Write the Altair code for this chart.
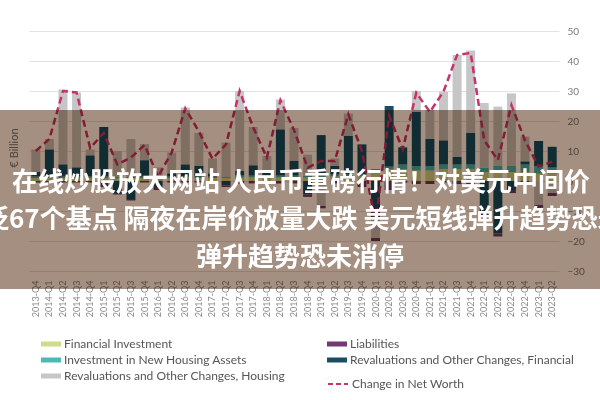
import altair as alt
import pandas as pd

quarters = [
    "2013-Q4",
    "2014-Q1", "2014-Q2", "2014-Q3", "2014-Q4",
    "2015-Q1", "2015-Q2", "2015-Q3", "2015-Q4",
    "2016-Q1", "2016-Q2", "2016-Q3", "2016-Q4",
    "2017-Q1", "2017-Q2", "2017-Q3", "2017-Q4",
    "2018-Q1", "2018-Q2", "2018-Q3", "2018-Q4",
    "2019-Q1", "2019-Q2", "2019-Q3", "2019-Q4",
    "2020-Q1", "2020-Q2", "2020-Q3", "2020-Q4",
    "2021-Q1", "2021-Q2", "2021-Q3", "2021-Q4",
    "2022-Q1", "2022-Q2", "2022-Q3", "2022-Q4",
    "2023-Q1", "2023-Q2",
]

fin_inv = [1.0, 1.0, 1.0, 1.0, 1.0, 1.0, 1.0, 1.0, 1.0, 1.0, 1.0, 1.0, 1.0, 1.0, 1.0,
           1.2, 1.2, 1.2, 1.2, 1.2, 1.2, 1.2, 1.5, 1.5, 1.5, 3.0, 4.0, 4.0, 3.5, 3.5,
           4.0, 4.0, 4.0, 3.0, 3.0, 3.0, 3.0, 2.5, 2.5]
new_housing = [0.5, 0.5, 0.5, 0.5, 0.5, 0.5, 0.5, 0.5, 0.5, 0.5, 0.5, 0.5, 0.5, 0.5, 0.5,
               0.6, 0.6, 0.6, 0.6, 0.6, 0.6, 0.6, 0.7, 0.7, 0.7, 1.0, 0.8, 1.5, 1.5, 1.5,
               1.5, 1.5, 1.5, 1.5, 2.0, 2.0, 2.5, 2.5, 2.0]
reval_fin = [1.5, 9.0, 4.0, 3.0, 7.0, 16.5, -4.0, -6.0, 5.4, -2.0, 1.0, 4.0, 3.5, 1.0, -1.5,
             1.5, 3.4, 1.0, 15.4, 4.9, -4.5, 13.5, 2.8, 12.8, 10.0, -13.0, 20.2, 5.7, 18.0, 9.0,
             8.0, 2.5, 10.5, -10.5, -17.5, -3.0, 1.0, 8.3, 6.9]
reval_housing = [7.5, 3.5, 25.0, 25.0, 2.0, 0.0, 8.5, 12.5, 5.4, 3.0, 7.0, 19.0, 11.0, 5.0, 11.3,
                 26.7, 12.8, 5.5, 10.0, 11.0, 7.0, -8.3, 2.5, 7.5, 0.0, -6.0, 0.0, 0.0, 7.0, 9.7,
                 16.3, 34.0, 27.5, 21.5, 19.8, 24.2, 8.3, -8.0, -4.0]
liabilities = [-0.5, -0.5, -0.5, -0.5, -0.5, -2.0, -0.5, -0.5, -0.5, -1.0, -0.5, -0.5, -0.5, -0.5, -0.5,
               -0.8, -0.8, -0.8, -0.8, -0.8, -0.8, -0.8, -0.8, -0.8, -2.0, -1.0, -3.0, -0.6, -1.0, -1.0,
               -0.5, -1.0, -1.0, -1.5, -1.0, -1.0, -1.0, -1.0, -1.0]
net_change = [10.0, 14.0, 30.0, 29.5, 11.0, 16.0, 5.5, 7.8, 12.0, 1.5, 9.5, 24.2, 16.5, 7.4, 12.2,
              30.0, 17.8, 7.8, 26.9, 17.0, 4.4, 6.7, 6.7, 22.2, 10.0, -14.0, 21.7, 10.6, 29.4, 23.0,
              29.8, 42.0, 42.7, 13.5, 7.0, 25.3, 13.5, 4.8, 6.4]

y_ticks = [-30, -20, -10, 0, 10, 20, 30, 40, 50]
banner_lines = [
    "在线炒股放大网站 人民币重磅行情！对美元中间价",
    "调贬67个基点 隔夜在岸价放量大跌 美元短线弹升趋势恐未消停",
    "弹升趋势恐未消停",
]
y_title = "€ Billion"

S_FI = "Financial Investment"
S_NH = "Investment in New Housing Assets"
S_RH = "Revaluations and Other Changes, Housing"
S_L = "Liabilities"
S_RF = "Revaluations and Other Changes, Financial"
S_NET = "Change in Net Worth"

series_defs = [
    (S_FI, fin_inv, 0),
    (S_NH, new_housing, 1),
    (S_RF, reval_fin, 2),
    (S_RH, reval_housing, 3),
    (S_L, liabilities, 4),
]
rows = []
for i, q in enumerate(quarters):
    for name, vals, order in series_defs:
        rows.append({"quarter": q, "series": name, "value": vals[i], "order": order})
df = pd.DataFrame(rows)
line_df = pd.DataFrame({"quarter": quarters, "net": net_change, "label": [S_NET] * len(quarters)})

FONT = "Lato"
xaxis = alt.Axis(labelAngle=270, labelAlign="right", labelBaseline="middle", labelFontSize=9,
                 labelColor="#8a8a8a", labelFont=FONT, ticks=False, domain=False,
                 labelPadding=9, grid=False, title=None)
yaxis = alt.Axis(orient="right", values=y_ticks, grid=True, gridColor="#e3e3e3", ticks=False,
                 domain=False, labelPadding=8, labelFontSize=10, labelColor="#7a7a7a",
                 labelFont=FONT, title=None)
xscale = alt.Scale(paddingInner=0.34, paddingOuter=0.17)
yscale = alt.Scale(domain=[-30, 50], nice=False, zero=False)

X = alt.X("quarter:N", sort=quarters, scale=xscale, axis=xaxis)

bar_symbol = "M-1,-0.25H1V0.25H-1Z"


def leg(x, y):
    return alt.Legend(title=None, orient="none", legendX=x, legendY=y, direction="vertical",
                      symbolType=bar_symbol, symbolSize=400, symbolStrokeWidth=0,
                      labelFont=FONT, labelFontSize=12, labelColor="#555555", labelOffset=3,
                      rowPadding=0, padding=0, labelLimit=400)


base = alt.Chart(df).transform_stack(
    stack="value", as_=["y0", "y1"], groupby=["quarter"],
    sort=[alt.SortField("order", order="ascending")],
)

bars_a = base.transform_filter(
    alt.FieldOneOfPredicate(field="series", oneOf=[S_FI, S_NH, S_RH])
).mark_bar().encode(
    x=X,
    y=alt.Y("y0:Q", scale=yscale, axis=yaxis),
    y2="y1:Q",
    color=alt.Color("series:N",
                    scale=alt.Scale(domain=[S_FI, S_NH, S_RH],
                                    range=["#cfdc8a", "#4dbab5", "#c6c6c6"]),
                    legend=leg(12, 303)),
)

bars_b = base.transform_filter(
    alt.FieldOneOfPredicate(field="series", oneOf=[S_L, S_RF])
).mark_bar().encode(
    x=X,
    y=alt.Y("y0:Q", scale=yscale, axis=yaxis),
    y2="y1:Q",
    fill=alt.Fill("series:N",
                  scale=alt.Scale(domain=[S_L, S_RF], range=["#6f3b72", "#1a4e63"]),
                  legend=leg(298, 303)),
)

line = alt.Chart(line_df).mark_line(strokeDash=[7, 4], strokeWidth=2.5).encode(
    x=X,
    y=alt.Y("net:Q", scale=yscale, axis=yaxis),
    stroke=alt.Stroke("label:N",
                      scale=alt.Scale(domain=[S_NET], range=["#c9316a"]),
                      legend=alt.Legend(title=None, orient="none", legendX=298, legendY=342,
                                        symbolType="stroke", symbolSize=400,
                                        symbolStrokeWidth=2, symbolDash=[5, 3],
                                        labelFont=FONT, labelFontSize=12,
                                        labelColor="#555555", labelOffset=3, padding=0,
                                        labelLimit=400)),
)

one = pd.DataFrame({"t": [0]})
banner = alt.Chart(one).mark_rect(color="#a48f80", blend="multiply").encode(
    x=alt.value(-29), x2=alt.value(571), y=alt.value(79), y2=alt.value(258)
)

def banner_text(txt, x, y, align):
    return alt.Chart(pd.DataFrame({"t": [txt]})).mark_text(
        font="Noto Sans CJK SC", fontSize=26, fontWeight="bold", color="white",
        align=align, baseline="middle"
    ).encode(x=alt.value(x), y=alt.value(y), text="t:N")

t1 = banner_text(banner_lines[0], 272, 152, "center")
t2 = banner_text(banner_lines[1], -72, 189, "left")
t3 = banner_text(banner_lines[2], 271, 227, "center")

ytitle = alt.Chart(pd.DataFrame({"t": [y_title]})).mark_text(
    angle=270, font=FONT, fontSize=11, color="#777777", align="center", baseline="middle"
).encode(x=alt.value(-14), y=alt.value(117), text="t:N")

chart = alt.layer(bars_a, bars_b, line, ytitle, banner, t1, t2, t3).properties(
    width=530, height=240,
    autosize=alt.AutoSizeParams(type="none"),
    padding={"left": 29, "top": 31, "right": 41, "bottom": 129},
    background="white",
).configure_view(stroke=None)

chart.save("out.html", embed_options={"renderer": "svg", "actions": False})
